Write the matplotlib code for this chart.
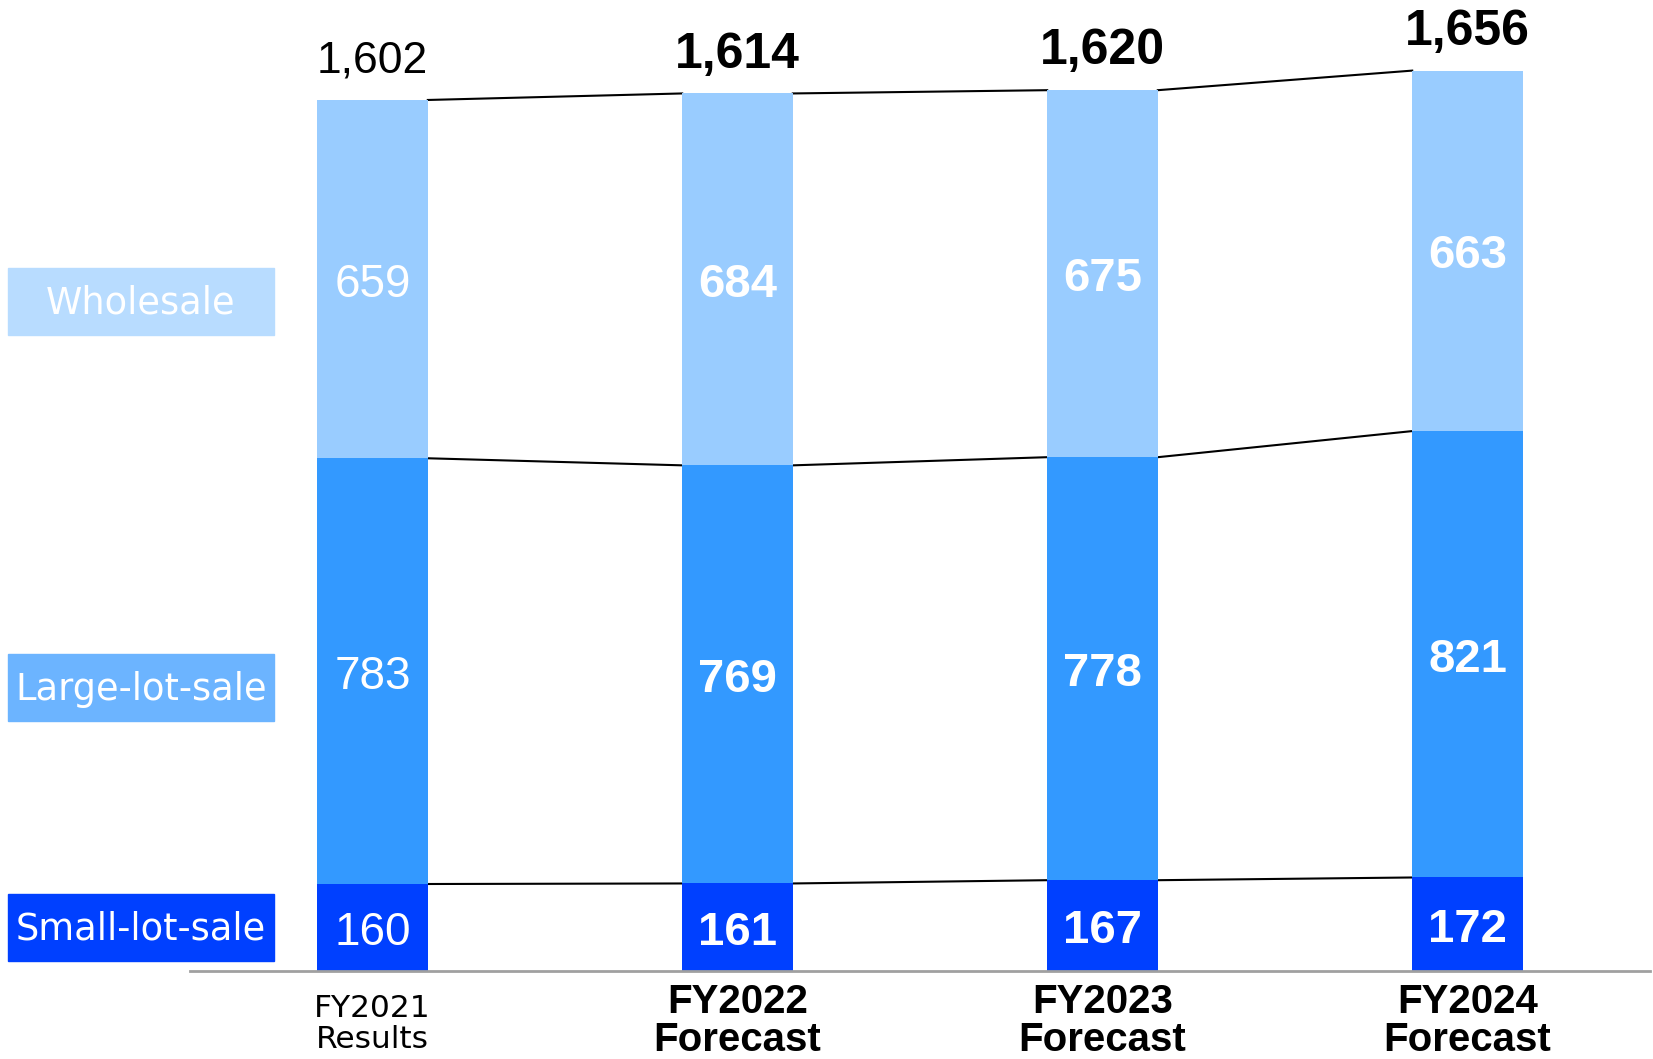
import matplotlib.pyplot as plt
from matplotlib.patches import Rectangle

# data
years = ['FY2021\nResults', 'FY2022\nForecast', 'FY2023\nForecast', 'FY2024\nForecast']
small_lot = [160, 161, 167, 172]
large_lot = [783, 769, 778, 821]
wholesale = [659, 684, 675, 663]
totals = ['1,602', '1,614', '1,620', '1,656']
series_names = ['Small-lot-sale', 'Large-lot-sale', 'Wholesale']

c_small = '#0040ff'
c_large = '#3399ff'
c_whole = '#99ccff'
box_colors = ['#0040ff', '#6cb4ff', '#b8dcff']

W, H = 1653, 1059
fig = plt.figure(figsize=(W / 100, H / 100), dpi=100)
ax = fig.add_axes([190 / W, 88 / H, 1460 / W, 951.5 / H])

x = list(range(len(years)))
bw = 0.303
bottoms2 = [a + b for a, b in zip(small_lot, large_lot)]
tops = [a + b for a, b in zip(bottoms2, wholesale)]

ax.bar(x, small_lot, bw, color=c_small, zorder=2)
ax.bar(x, large_lot, bw, bottom=small_lot, color=c_large, zorder=2)
ax.bar(x, wholesale, bw, bottom=bottoms2, color=c_whole, zorder=2)

# connector lines between bars
for lvl in (small_lot, bottoms2, tops):
    for i in range(len(x) - 1):
        ax.plot([x[i] + bw / 2, x[i + 1] - bw / 2], [lvl[i], lvl[i + 1]],
                color='black', lw=1.5, zorder=1)

# segment labels
for i in x:
    bold = i > 0
    fw = 'bold' if bold else 'normal'
    fs = 34 if bold else 33
    mids = [small_lot[i] / 2, small_lot[i] + large_lot[i] / 2,
            bottoms2[i] + wholesale[i] / 2]
    vals = [small_lot[i], large_lot[i], wholesale[i]]
    for m, v in zip(mids, vals):
        ax.annotate(str(v), (i, m), xytext=(0, -4), textcoords='offset points',
                    ha='center', va='center', color='white', fontsize=fs,
                    fontweight=fw, family='Liberation Sans', zorder=3)
    ax.annotate(totals[i], (i, tops[i]), xytext=(0, 28), textcoords='offset points',
                ha='center', va='center', fontsize=36 if bold else 32,
                fontweight=fw, family='Liberation Sans', color='black')

ax.set_xlim(-0.5, 3.5)
ax.set_ylim(0, 1750)
for s in ['top', 'right', 'left']:
    ax.spines[s].set_visible(False)
ax.spines['bottom'].set_color('#a0a0a0')
ax.spines['bottom'].set_linewidth(2)
ax.set_yticks([])
ax.set_xticks(x)
ax.set_xticklabels([])
ax.tick_params(axis='x', length=0)

# x labels
ax.text(0, -23 / 0.5437, years[0], ha='center', va='top', fontsize=22.5,
        family='DejaVu Sans', linespacing=1.08)
for i in x[1:]:
    ax.text(i, -12 / 0.5437, years[i], ha='center', va='top', fontsize=29,
            fontweight='bold', family='Liberation Sans', linespacing=1.0)

# legend boxes on the left
boxes = [(894, 961), (654, 721), (268, 335)]
for name, col, (y0, y1) in zip(series_names, box_colors, boxes):
    fig.patches.append(Rectangle((8 / W, 1 - y1 / H), 266 / W, (y1 - y0) / H,
                                 transform=fig.transFigure, color=col))
    fig.text(141 / W, 1 - (y0 + y1) / 2 / H - 2 / H, name, ha='center', va='center',
             color='white', fontsize=26.5, family='DejaVu Sans')

fig.savefig('out.png', dpi=100)
